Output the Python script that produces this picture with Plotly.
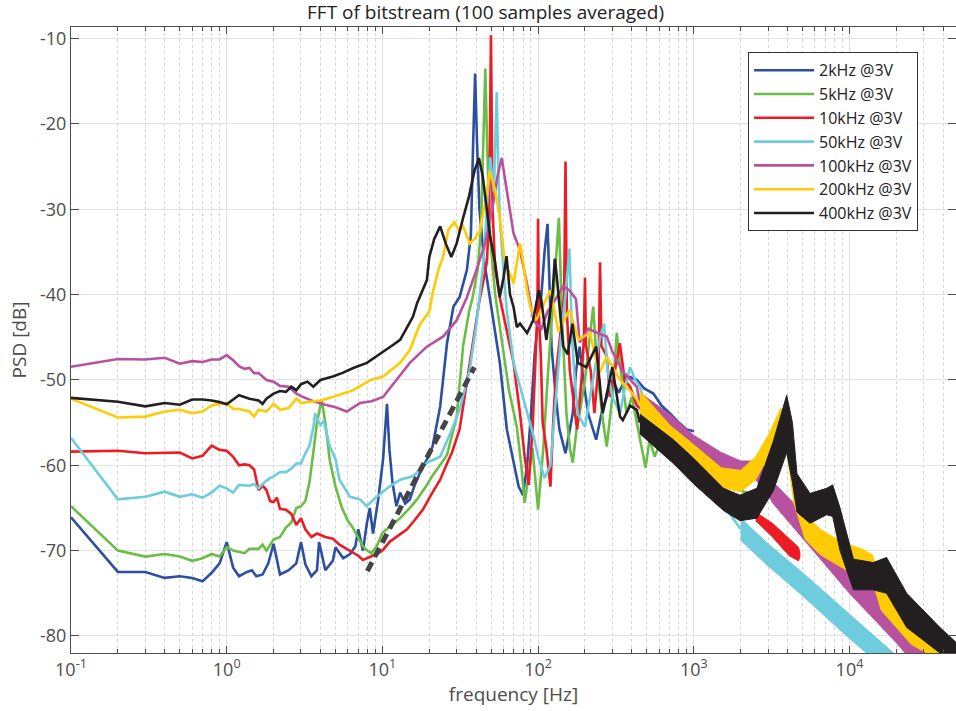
import plotly.graph_objects as go

TITLE = "FFT of bitstream (100 samples averaged)"
NAMES = ["2kHz @3V", "5kHz @3V", "10kHz @3V", "50kHz @3V", "100kHz @3V", "200kHz @3V", "400kHz @3V"]
COLORS = ["#2D4FA0", "#6ABD45", "#ED1C24", "#6DCCDD", "#B8519F", "#FFCB05", "#231F20"]

X_TICKS = [0.1, 1, 10, 100, 1000, 10000]
X_TICKTEXT = ["10<sup>-1</sup>", "10<sup>0</sup>", "10<sup>1</sup>", "10<sup>2</sup>", "10<sup>3</sup>", "10<sup>4</sup>"]
Y_TICKS = [-80, -70, -60, -50, -40, -30, -20, -10]

# (frequency Hz, PSD dB)
BLUE = [(0.1,-66.1),(0.2,-72.5),(0.3,-72.5),(0.4,-73.2),(0.5,-73.0),(0.6,-73.2),(0.7,-73.6),(0.8,-72.6),(0.9,-71.5),(1.0,-69.0),(1.1,-72.0),(1.2,-73.0),(1.35,-72.5),(1.45,-72.3),(1.55,-73.0),(1.7,-72.8),(1.85,-71.5),(2.0,-69.2),(2.2,-72.8),(2.5,-72.3),(2.8,-71.5),(3.0,-69.0),(3.2,-71.6),(3.5,-73.0),(3.8,-72.3),(3.92,-69.0),(4.3,-72.3),(4.8,-71.2),(5.0,-69.6),(5.6,-70.9),(6.2,-70.4),(6.7,-69.5),(7.0,-67.5),(7.5,-70.0),(7.95,-66.8),(8.3,-65.0),(8.7,-68.0),(9.4,-64.0),(10.1,-59.3),(10.7,-52.8),(11.1,-58.2),(11.6,-62.0),(12.3,-64.8),(13.0,-63.2),(14.0,-64.5),(15.0,-64.0),(16.0,-62.5),(17.4,-60.9),(19.3,-59.3),(21,-57.8),(23.5,-53.1),(26,-45.7),(28.6,-41.4),(31.3,-40.3),(34.9,-37.1),(37,-33),(38.3,-22),(39.4,-14.1),(40.5,-22),(42,-30),(45,-36),(48.9,-40.3),(53,-45),(56.8,-48),(63,-55.8),(69,-59.4),(75,-62.5),(80,-63.5),(85,-60),(90,-54),(95,-47),(100,-43),(105,-40),(110,-35),(115,-31.7),(118,-38),(122,-46.1),(130,-52),(137,-55.8),(150,-58.6),(160,-56),(167,-53.9),(175,-49),(185,-46.1),(195,-50),(210,-54),(236,-57),(255,-54),(276,-52),(300,-50),(330,-51.5),(370,-49.5),(430,-50),(480,-51),(550,-51.6),(620,-53),(700,-53.9),(800,-55),(900,-55.8),(1000,-56)]

GREEN = [(0.1,-64.8),(0.2,-70.0),(0.3,-70.7),(0.4,-70.4),(0.5,-70.7),(0.6,-71.2),(0.7,-70.9),(0.8,-70.4),(0.9,-70.7),(1.0,-69.6),(1.1,-70.0),(1.3,-70.3),(1.4,-69.8),(1.6,-69.8),(1.7,-69.3),(1.8,-70.0),(2.0,-68.7),(2.2,-68.4),(2.4,-67.3),(2.6,-66.7),(2.8,-65.0),(3.0,-64.8),(3.2,-64.2),(3.4,-62.0),(3.6,-58.5),(3.8,-55),(4.07,-52.3),(4.3,-55),(4.6,-59.5),(5.0,-62.5),(5.5,-65),(6.0,-66.5),(6.4,-67.2),(7.0,-68.5),(7.5,-69.5),(8.0,-70),(8.5,-70.3),(9.2,-69.5),(10,-67.9),(11.5,-67),(13,-66.2),(15,-65),(16.7,-64),(19,-62.5),(21,-61.2),(23,-60.2),(26,-58.8),(28,-56.5),(30,-54.3),(33,-46),(36,-42),(38,-40.3),(41,-37),(43,-32),(44.5,-22),(45.8,-13.5),(47,-22),(49,-33),(53,-40),(57,-44.1),(65,-51.2),(73,-55.5),(78,-60),(82,-64.4),(87,-61),(92,-58),(100,-65.2),(108,-58),(115,-50),(122,-43),(130,-36),(136,-31),(142,-42),(152,-53.9),(160,-58),(167,-59.7),(176,-56),(185,-53.9),(200,-50),(215,-45),(226,-41.4),(236,-47),(247,-51),(262,-55),(276,-57.8),(300,-52),(320,-44.5),(340,-49),(370,-53.9),(400,-52),(430,-55),(460,-57.5),(490,-60.3),(520,-57),(560,-59),(620,-57),(700,-56.2),(800,-57),(900,-57.8),(1100,-60),(1500,-62),(2000,-63),(2300,-63.3),(2500,-64)]

RED = [(0.1,-58.4),(0.2,-58.3),(0.3,-58.6),(0.5,-58.5),(0.6,-59.2),(0.7,-58.9),(0.8,-57.7),(0.9,-58.2),(1.0,-58.3),(1.1,-59.0),(1.2,-60.0),(1.3,-59.9),(1.4,-60.0),(1.5,-60.5),(1.6,-62.9),(1.7,-62.4),(1.8,-62.9),(1.9,-64.2),(2.0,-64.3),(2.1,-63.8),(2.2,-65.1),(2.4,-65.2),(2.6,-65.7),(2.8,-67.0),(3.0,-66.2),(3.2,-67.5),(3.5,-68.4),(3.8,-68.0),(4.3,-68.4),(4.8,-68.6),(5.3,-69.3),(6.2,-70.0),(7.0,-70.6),(7.5,-71.1),(8.2,-70.8),(9.2,-70.4),(10,-70.0),(11.1,-69.0),(12.5,-68.3),(14.4,-67.5),(16,-66.5),(18.2,-65.2),(20.5,-63.5),(23.5,-61.7),(26,-59.8),(28,-58.5),(31.3,-55.8),(34.9,-50.4),(38.7,-44.9),(42,-40.7),(45,-38),(47,-36),(48.5,-30),(49.8,-9.6),(51,-30),(53,-37),(56.7,-40.3),(62.7,-44.2),(69.6,-48),(76.5,-53.9),(82,-59),(87,-62.3),(92,-56),(96,-48),(99,-42),(100,-31.1),(101,-42),(104,-47),(107,-55),(113,-58),(120,-62.5),(125,-55),(130,-49.5),(142,-43),(147,-40),(150,-24.4),(153,-42),(160,-49),(170,-53),(178,-55.8),(190,-50),(197,-45),(200,-38),(203,-46),(218,-49),(230,-53.9),(245,-48),(250,-36.2),(255,-46),(276,-47.2),(290,-52),(310,-49),(335,-45.7),(360,-50),(390,-50.8),(430,-53),(500,-54),(600,-55.5),(800,-58),(1000,-60.5),(1500,-62.5),(2000,-64.5),(2500,-66)]
RED_BAND_F = [2500, 3200, 4100, 4700, 4800]
RED_BAND_HI = [-65.5, -66.8, -68.6, -69.6, -70.2]
RED_BAND_LO = [-66.5, -68.4, -70.6, -71.2, -70.8]

CYAN = [(0.1,-56.8),(0.2,-64.0),(0.3,-63.7),(0.4,-63.1),(0.5,-63.7),(0.6,-63.4),(0.7,-63.8),(0.8,-63.2),(0.9,-62.4),(1.0,-62.7),(1.1,-63.2),(1.2,-62.3),(1.4,-62.4),(1.5,-62.2),(1.6,-62.7),(1.7,-62.2),(1.8,-61.8),(1.9,-61.5),(2.0,-61.3),(2.2,-60.8),(2.4,-60.8),(2.6,-60.4),(2.8,-59.8),(3.0,-59.8),(3.2,-58.6),(3.4,-57.7),(3.6,-55.6),(3.7,-53.9),(3.8,-54.5),(4.0,-55.3),(4.2,-54.8),(4.6,-57.8),(5.0,-59.3),(5.3,-61.7),(6.2,-63.7),(7.2,-64.0),(7.9,-64.8),(9.2,-63.7),(11.1,-62.5),(13,-61.7),(15.7,-61.3),(19.3,-59.7),(23.5,-59.0),(27.4,-56.2),(31.3,-53.5),(36.4,-48.8),(40.2,-43.4),(44.5,-36.3),(49.2,-23.9),(52,-28),(54.2,-16.3),(55.5,-25),(56.7,-30.9),(59.5,-36.3),(63,-42),(69.6,-48),(80,-52),(93.5,-56.6),(100,-59),(110,-61.5),(120,-60),(130,-52),(140,-45),(150,-40),(159,-34.6),(165,-45),(172,-50),(180,-54),(200,-55.5),(225,-50),(250,-45),(265,-43.4),(280,-49),(300,-52),(336,-53.9),(360,-51),(390,-48.5),(420,-50),(450,-50.8),(480,-52.4),(600,-55.5),(800,-58.5),(1000,-60.5),(1400,-63.5),(2000,-67.5)]
CYAN_BAND_F = [2000, 3000, 5000, 10000, 20000, 25000]
CYAN_BAND_HI = [-66.2, -69.2, -72.6, -77.5, -82.3, -83.8]
CYAN_BAND_LO = [-68.8, -71.8, -75.3, -80.3, -85.0, -86.5]

MAGENTA = [(0.1,-48.45),(0.2,-47.55),(0.3,-47.6),(0.4,-47.4),(0.5,-48.1),(0.6,-47.8),(0.7,-47.9),(0.8,-47.6),(0.9,-47.6),(1.0,-47.1),(1.1,-47.7),(1.2,-48.4),(1.3,-48.7),(1.4,-48.6),(1.5,-49.2),(1.6,-49.2),(1.7,-49.6),(1.8,-50.0),(2.0,-50.2),(2.2,-50.7),(2.5,-50.8),(2.8,-51.6),(3.0,-51.9),(3.3,-52.2),(3.6,-52.5),(4.3,-52.9),(5.0,-53.2),(5.9,-53.7),(7.2,-52.7),(8.5,-52.5),(10.1,-52.0),(12.3,-50.0),(15,-48.0),(19.3,-46.1),(24.6,-44.9),(30,-43.0),(34.9,-40.3),(40.2,-37.1),(45.7,-34.0),(51.5,-29.3),(55,-26),(58.4,-24.0),(62.7,-27.4),(66,-30),(69.5,-32.8),(76.5,-34.8),(84.8,-38.7),(93.5,-43),(98,-43.5),(105,-44),(115,-42),(130,-40.5),(145,-39),(159,-39.5),(175,-40.5),(185,-45.6),(210,-44),(240,-44.5),(276,-44.9),(300,-46.7),(350,-49),(430,-50.8),(450,-52.6)]
MAGENTA_BAND_F = [450, 700, 1000, 1500, 2000, 2500, 3000, 3240, 5000, 10000, 20000, 35000]
MAGENTA_BAND_HI = [-51.5, -54.0, -56.5, -58.5, -59.5, -59.5, -60.5, -62.0, -65.5, -71.5, -77.3, -82.5]
MAGENTA_BAND_LO = [-53.8, -56.5, -58.5, -60.6, -61.2, -61.7, -63.5, -64.5, -68.5, -75.0, -80.8, -86.0]

YELLOW = [(0.1,-52.2),(0.2,-54.4),(0.3,-54.3),(0.4,-53.7),(0.5,-53.5),(0.6,-53.9),(0.7,-53.7),(0.8,-53.0),(1.0,-52.7),(1.1,-53.4),(1.2,-53.4),(1.4,-53.7),(1.5,-54.3),(1.6,-53.5),(1.8,-53.7),(2.0,-52.8),(2.2,-53.5),(2.5,-53.3),(2.8,-52.2),(3.0,-52.7),(3.3,-52.6),(4.0,-52.4),(4.8,-52.0),(6.5,-51.2),(8.4,-50.0),(10.1,-49.6),(13,-48.0),(15,-46.5),(17.4,-43.5),(20,-42),(21.2,-39.5),(23,-37),(24.6,-35.5),(26.5,-32.4),(29,-31.5),(31,-32.5),(33,-32),(36.4,-34),(39,-33.5),(42,-32.7),(45,-30),(49,-25.5),(53,-27.8),(56.7,-30.9),(61,-36),(69.6,-38.7),(76.5,-34),(80,-36),(84.8,-39.5),(89,-41.4),(97,-43),(110,-41),(120,-39.5),(135,-44.3),(159,-41.8),(182,-45.3),(215,-44.5),(247,-49.2),(276,-47.3),(336,-50),(400,-51.5),(450,-52.8)]
YELLOW_BAND_F = [450, 700, 1000, 1500, 2000, 2500, 3000, 3630, 4000, 4400, 5200, 6500, 8000, 10000, 12000, 14000, 16000, 20000, 25000, 35000, 50000]
YELLOW_BAND_HI = [-51.3, -55.3, -57.6, -60.3, -60.6, -59.0, -56.5, -53.3, -56.0, -61.5, -65.8, -67.5, -68.5, -69.3, -69.8, -70.5, -73.5, -75.5, -77.0, -79.0, -81.0]
YELLOW_BAND_LO = [-54.3, -57.7, -59.7, -62.6, -63.1, -61.7, -59.0, -56.0, -59.0, -64.5, -68.7, -70.5, -71.5, -72.5, -72.5, -73.5, -77.0, -79.0, -81.0, -82.5, -84.0]

BLACK = [(0.1,-52.1),(0.2,-52.55),(0.3,-53.1),(0.4,-52.7),(0.5,-52.9),(0.6,-52.3),(0.7,-52.3),(0.8,-52.4),(0.9,-52.6),(1.0,-52.86),(1.1,-52.3),(1.2,-51.8),(1.4,-52.2),(1.6,-52.4),(1.7,-52.8),(1.8,-52.2),(2.0,-51.6),(2.2,-51.3),(2.4,-51.4),(2.6,-50.8),(2.8,-51.2),(3.0,-50.5),(3.3,-50.2),(3.6,-50.8),(4.0,-50.0),(4.8,-49.6),(5.5,-49.2),(6.5,-48.6),(7.95,-48.0),(9.8,-46.9),(11.5,-46.0),(13,-45.3),(14.4,-43.8),(15.7,-42.6),(16.7,-41.0),(19.3,-38.3),(20,-35.6),(21.5,-33.5),(23.5,-32.0),(25.5,-34),(27.7,-35.6),(30,-34),(33,-31),(36,-28.5),(39,-25.5),(41.7,-24.0),(44,-26),(46.5,-29.3),(49.2,-33.2),(53,-36.3),(56.7,-40.3),(60,-38),(62.7,-35.5),(66,-40),(69.6,-41.5),(73,-43.8),(76.5,-43.4),(85,-44.5),(93,-43),(101,-39.5),(105,-40.7),(113,-45.3),(124,-39.7),(128,-35.8),(132,-38),(145,-46.1),(155,-47),(166,-43.4),(180,-48),(204,-48.5),(225,-47),(236,-46.1),(260,-53.9),(286,-50.5),(300,-48.5),(336,-54.3),(350,-54.7),(390,-53),(430,-53.5),(450,-55)]
BLACK_BAND_F = [450, 740, 1000, 1550, 1980, 2540, 3240, 3950, 4300, 4600, 5580, 7130, 7800, 8690, 10600, 14200, 17300, 23300, 38100, 50000]
BLACK_BAND_HI = [-54.0, -57.0, -59.2, -62.7, -63.5, -62.7, -57.2, -51.8, -55.0, -61.0, -63.3, -62.7, -62.3, -65.0, -71.0, -71.4, -70.8, -75.0, -79.0, -81.0]
BLACK_BAND_LO = [-56.3, -59.8, -62.2, -65.3, -66.5, -66.2, -63.0, -58.5, -62.0, -65.5, -66.8, -65.8, -66.0, -70.0, -74.6, -74.6, -75.0, -79.0, -82.0, -84.0]

SLOPE_F = [8.0, 39.0]
SLOPE_DB = [-72.4, -48.5]

SERIES = [
    (BLUE, None),
    (GREEN, None),
    (RED, (RED_BAND_F, RED_BAND_HI, RED_BAND_LO)),
    (CYAN, (CYAN_BAND_F, CYAN_BAND_HI, CYAN_BAND_LO)),
    (MAGENTA, (MAGENTA_BAND_F, MAGENTA_BAND_HI, MAGENTA_BAND_LO)),
    (YELLOW, (YELLOW_BAND_F, YELLOW_BAND_HI, YELLOW_BAND_LO)),
    (BLACK, (BLACK_BAND_F, BLACK_BAND_HI, BLACK_BAND_LO)),
]

FONT = "Open Sans, Noto Sans, sans-serif"
AX = "#4d4d4d"

fig = go.Figure()
for (pts, band), name, color in zip(SERIES, NAMES, COLORS):
    f = [p[0] for p in pts]
    d = [p[1] for p in pts]
    fig.add_trace(go.Scatter(x=f, y=d, mode="lines", name=name,
                             line=dict(color=color, width=2.6), hoverinfo="skip"))
    if band is not None:
        bf, hi, lo = band
        fig.add_trace(go.Scatter(x=list(bf) + list(bf)[::-1], y=list(hi) + list(lo)[::-1],
                                 mode="lines", fill="toself", fillcolor=color,
                                 line=dict(color=color, width=1), showlegend=False,
                                 hoverinfo="skip"))

fig.add_trace(go.Scatter(x=SLOPE_F, y=SLOPE_DB, mode="lines", showlegend=False,
                         line=dict(color="#444444", width=5, dash="10px,6px"), hoverinfo="skip"))

fig.update_layout(
    width=956, height=711,
    margin=dict(l=71, r=0, t=27, b=58),
    paper_bgcolor="white", plot_bgcolor="white",
    font=dict(family=FONT, color=AX, size=18),
    title=dict(text=TITLE, x=0.4684, xref="paper", xanchor="center",
               y=0.982, yref="container", yanchor="middle",
               font=dict(family=FONT, size=19, color="#222222")),
    legend=dict(x=0.765, y=0.9596, xanchor="left", yanchor="top",
                bgcolor="white", bordercolor="#333333", borderwidth=1,
                font=dict(family=FONT, size=16, color="#222222"),
                tracegroupgap=0, itemwidth=60, entrywidth=150, entrywidthmode="pixels"),
    showlegend=True,
)

fig.update_xaxes(
    type="log", range=[-1, 4.684],
    tickvals=X_TICKS, ticktext=X_TICKTEXT,
    ticks="inside", ticklen=7, tickcolor=AX, tickwidth=1,
    showline=True, linecolor=AX, linewidth=1, mirror="ticks",
    showgrid=True, gridcolor="#e2e2e2", gridwidth=1, zeroline=False,
    minor=dict(dtick="D1", ticks="inside", ticklen=4, tickcolor=AX, showgrid=True,
               gridcolor="#d4d4d4", griddash="dot", gridwidth=1),
    tickfont=dict(family=FONT, size=18, color=AX),
    title=dict(text="frequency [Hz]", font=dict(family=FONT, size=19, color=AX), standoff=0),
)
fig.update_yaxes(
    range=[-82, -8.64],
    tickvals=Y_TICKS, ticktext=[str(v) for v in Y_TICKS],
    ticks="inside", ticklen=8, tickcolor=AX, tickwidth=1,
    showline=True, linecolor=AX, linewidth=1, mirror="ticks",
    showgrid=True, gridcolor="#e2e2e2", gridwidth=1, zeroline=False,
    tickfont=dict(family=FONT, size=18, color=AX),
    title=dict(text="PSD [dB]", font=dict(family=FONT, size=19, color=AX), standoff=8),
)

fig.write_html("out.html")
